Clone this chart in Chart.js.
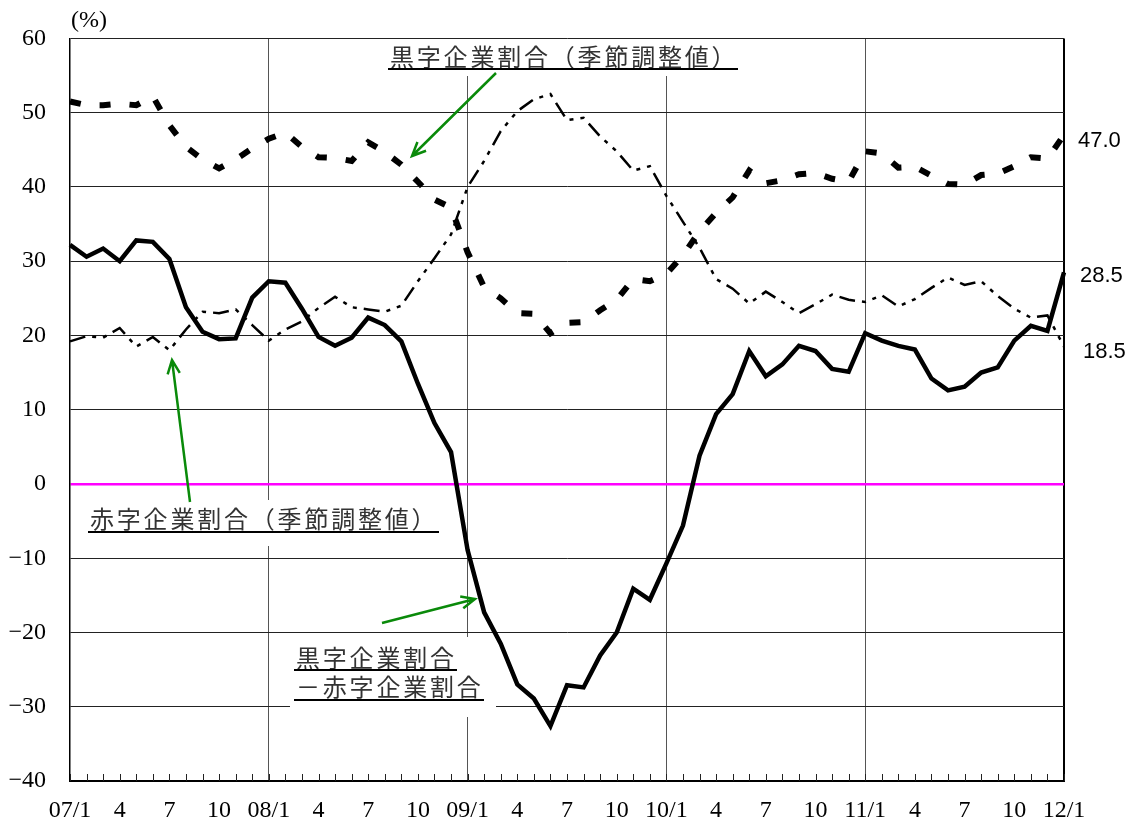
<!DOCTYPE html>
<html>
<head>
<meta charset="utf-8">
<script src="https://cdn.jsdelivr.net/npm/chart.js@4.4.1/dist/chart.umd.min.js"></script>
<style>
  html, body { margin: 0; padding: 0; background: #fff; }
  #wrap { position: relative; width: 1135px; height: 827px; }
</style>
</head>
<body>
<div id="wrap"><canvas id="chart" width="1135" height="827"></canvas></div>
<script>
// 月次 07/1 〜 12/1（61か月）
const tickLabels = ['07/1', '4', '7', '10', '08/1', '4', '7', '10', '09/1', '4', '7', '10',
  '10/1', '4', '7', '10', '11/1', '4', '7', '10', '12/1'];

// 黒字企業割合（季節調整値）
const kuroji = [51.5, 51.0, 51.0, 51.2, 51.0, 52.2, 48.3, 45.4, 43.7, 42.5,
  43.7, 45.2, 46.5, 47.3, 45.4, 44.0, 43.9, 43.5, 46.0, 44.7,
  43.0, 40.7, 38.3, 37.2, 31.2, 26.5, 25.0, 23.0, 22.9, 20.3,
  21.7, 21.8, 23.4, 24.8, 27.6, 27.3, 28.3, 30.8, 34.0, 36.5,
  38.6, 42.2, 40.5, 40.9, 41.7, 41.9, 41.1, 40.7, 44.8, 44.5,
  42.6, 42.7, 41.5, 40.4, 40.3, 41.6, 41.8, 42.8, 44.0, 43.8,
  47.0];

// 赤字企業割合（季節調整値）
const akaji = [19.2, 19.9, 19.7, 21.0, 18.5, 19.8, 18.0, 20.8, 23.2, 23.0,
  23.5, 21.4, 19.3, 20.8, 21.9, 23.7, 25.2, 23.8, 23.5, 23.2,
  24.0, 27.3, 30.4, 33.6, 40.0, 43.5, 47.5, 50.2, 51.8, 52.5,
  49.0, 49.3, 46.8, 44.8, 42.2, 42.8, 38.8, 35.3, 31.8, 27.6,
  26.3, 24.3, 25.9, 24.5, 23.0, 24.2, 25.5, 24.8, 24.5, 25.4,
  23.9, 24.9, 26.4, 27.8, 26.8, 27.3, 25.3, 23.6, 22.4, 22.7,
  18.5];

// 黒字企業割合 − 赤字企業割合
const sabun = [32.2, 30.6, 31.7, 30.0, 32.8, 32.6, 30.3, 23.8, 20.5, 19.5,
  19.6, 25.1, 27.3, 27.1, 23.6, 19.8, 18.6, 19.7, 22.4, 21.4,
  19.2, 13.5, 8.2, 4.3, -8.9, -17.3, -21.5, -27.0, -28.9, -32.6,
  -27.1, -27.4, -23.1, -20.0, -14.1, -15.6, -10.7, -5.6, 3.8, 9.4,
  12.1, 17.9, 14.5, 16.1, 18.6, 17.9, 15.5, 15.1, 20.3, 19.3,
  18.6, 18.1, 14.2, 12.6, 13.1, 15.0, 15.7, 19.3, 21.3, 20.6,
  28.5];

const endLabels = ['47.0', '28.5', '18.5'];

const months = kuroji.map((_, i) => {
  const y = 7 + Math.floor(i / 12);
  return String(y).padStart(2, '0') + '/' + (i % 12 + 1);
});

const SERIF = '"Liberation Serif", "DejaVu Serif", serif';
const JP = '"Noto Sans CJK JP", sans-serif';

function drawSpaced(ctx, text, x, y, step) {
  [...text].forEach((ch, i) => ctx.fillText(ch, x + i * step, y));
}

function arrow(ctx, x1, y1, x2, y2) {
  const a = Math.atan2(y2 - y1, x2 - x1);
  const h = 15, w = 0.42;
  ctx.beginPath();
  ctx.moveTo(x1, y1);
  ctx.lineTo(x2, y2);
  ctx.moveTo(x2 - h * Math.cos(a - w), y2 - h * Math.sin(a - w));
  ctx.lineTo(x2, y2);
  ctx.lineTo(x2 - h * Math.cos(a + w), y2 - h * Math.sin(a + w));
  ctx.stroke();
}

const annotations = {
  id: 'annotations',
  beforeDatasetsDraw(chart) {
    const ctx = chart.ctx;
    ctx.save();
    // 文字の下地（白）
    ctx.fillStyle = '#fff';
    ctx.fillRect(386, 39, 356, 37);
    ctx.fillRect(86, 500, 356, 46);
    ctx.fillRect(290, 637, 206, 80);

    ctx.fillStyle = '#333';
    ctx.font = '24px ' + JP;
    ctx.textBaseline = 'middle';
    ctx.textAlign = 'left';
    drawSpaced(ctx, '黒字企業割合（季節調整値）', 390, 57, 26.8);
    drawSpaced(ctx, '赤字企業割合（季節調整値）', 90, 519, 26.8);
    drawSpaced(ctx, '黒字企業割合', 296, 658, 26.8);
    drawSpaced(ctx, '－赤字企業割合', 296, 687, 26.8);

    ctx.strokeStyle = '#000';
    ctx.lineWidth = 2;
    ctx.beginPath();
    ctx.moveTo(388, 69); ctx.lineTo(738, 69);
    ctx.moveTo(88, 532); ctx.lineTo(439, 532);
    ctx.moveTo(294, 670); ctx.lineTo(457, 670);
    ctx.moveTo(294, 700); ctx.lineTo(484, 700);
    ctx.stroke();

    // 月の目盛り（内向き）
    const xs = chart.scales.x;
    const bottom = chart.chartArea.bottom;
    ctx.strokeStyle = '#222';
    ctx.lineWidth = 1;
    ctx.beginPath();
    months.forEach((_, i) => {
      const px = Math.round(xs.getPixelForValue(i)) + 0.5;
      ctx.moveTo(px, bottom);
      ctx.lineTo(px, bottom - 7);
    });
    ctx.stroke();
    ctx.restore();
  },
  afterDraw(chart) {
    const ctx = chart.ctx;
    ctx.save();
    ctx.strokeStyle = '#0a8a0a';
    ctx.lineWidth = 2.5;
    arrow(ctx, 496, 73, 412, 156);
    arrow(ctx, 190, 502, 172, 360);
    arrow(ctx, 382, 623, 475, 599);

    ctx.fillStyle = '#000';
    ctx.font = '22px "Liberation Sans", Arial, sans-serif';
    ctx.textBaseline = 'middle';
    ctx.textAlign = 'left';
    ctx.fillText(endLabels[0], 1078, 141);
    ctx.fillText(endLabels[1], 1080, 276);
    ctx.fillText(endLabels[2], 1083, 352);

    ctx.font = '24px ' + SERIF;
    ctx.fillText('(%)', 71, 21);
    ctx.restore();
  }
};

new Chart(document.getElementById('chart'), {
  type: 'line',
  data: {
    labels: months,
    datasets: [
      {
        label: '黒字企業割合－赤字企業割合',
        data: sabun,
        borderColor: '#000',
        borderWidth: 4.5,
        pointRadius: 0,
        tension: 0,
        order: 0
      },
      {
        label: '黒字企業割合（季節調整値）',
        data: kuroji,
        borderColor: '#000',
        borderWidth: 6,
        borderDash: [11, 19],
        borderCapStyle: 'butt',
        pointRadius: 0,
        tension: 0,
        order: 1
      },
      {
        label: '赤字企業割合（季節調整値）',
        data: akaji,
        borderColor: '#000',
        borderWidth: 2.5,
        borderDash: [16, 7, 4, 7, 4, 7],
        borderCapStyle: 'butt',
        pointRadius: 0,
        tension: 0,
        order: 2
      }
    ]
  },
  options: {
    responsive: false,
    animation: false,
    devicePixelRatio: 1,
    layout: { padding: { top: 37, right: 71, left: 0, bottom: 0 } },
    plugins: { legend: { display: false }, tooltip: { enabled: false } },
    scales: {
      x: {
        offset: false,
        afterFit: s => { s.height = 46; },
        grid: {
          drawTicks: false,
          color: c => (c.index % 12 === 0 && c.index > 0) ? (c.index === 60 ? '#000' : '#555') : 'rgba(0,0,0,0)',
          lineWidth: c => c.index === 60 ? 2 : 1
        },
        border: { display: true, color: '#000', width: 2 },
        ticks: {
          autoSkip: false,
          maxRotation: 0,
          padding: 15,
          color: '#000',
          font: { family: SERIF, size: 24 },
          callback: (v, i) => i % 3 === 0 ? tickLabels[i / 3] : ''
        }
      },
      y: {
        min: -40,
        max: 60,
        afterFit: s => { s.width = 70; },
        grid: {
          drawTicks: false,
          color: c => c.tick.value === 0 ? '#ff00ff' : '#222',
          lineWidth: c => c.tick.value === 0 ? 2.5 : 1
        },
        border: { display: true, color: '#000', width: 1.5 },
        ticks: {
          stepSize: 10,
          padding: 24,
          color: '#000',
          font: { family: SERIF, size: 24 },
          callback: v => v < 0 ? '−' + Math.abs(v) : String(v)
        }
      }
    }
  },
  plugins: [annotations]
});
</script>
</body>
</html>
